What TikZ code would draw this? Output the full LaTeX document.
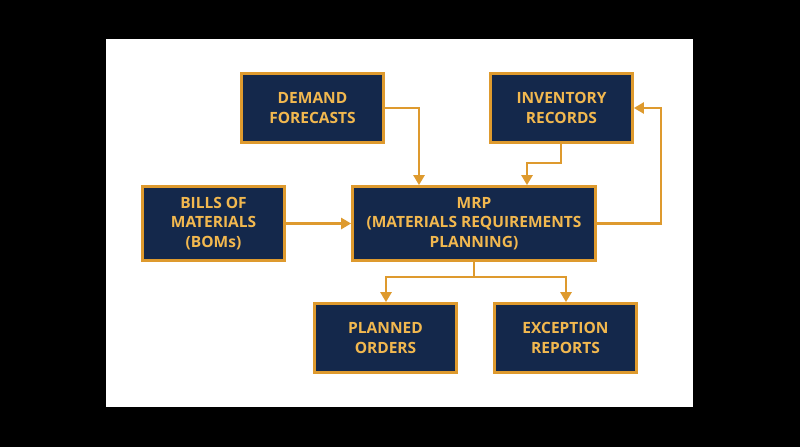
\documentclass[tikz,border=0pt]{standalone}
\usepackage{fontspec}
\setmainfont{Open Sans}
\usetikzlibrary{arrows.meta}
\definecolor{navy}{HTML}{14284B}
\definecolor{gold}{HTML}{DE9A2E}
\definecolor{goldtext}{HTML}{F2B84F}
\tikzset{
  box/.style={draw=gold, fill=navy, line width=2.8pt, text=goldtext, align=center,
    font=\bfseries\fontsize{15.5}{19.5}\selectfont, inner sep=0pt},
  conn/.style={draw=gold, line width=2.8pt, -{Triangle[length=10pt,width=11pt]}},
  plain/.style={draw=gold, line width=2.8pt}
}
\begin{document}
\begin{tikzpicture}[x=1pt,y=-1pt]
\fill[black] (0,0) rectangle (800,447);
\fill[white] (106,39) rectangle (693,407);
\useasboundingbox (0,0) rectangle (800,447);
\node[box, minimum width=142pt, minimum height=69pt] (dem) at (312.5,108) {DEMAND\\FORECASTS};
\node[box, minimum width=142pt, minimum height=69pt] (inv) at (561.5,108) {INVENTORY\\RECORDS};
\node[box, minimum width=142pt, minimum height=74pt] (bom) at (213.5,223.5) {BILLS OF\\MATERIALS\\(BOMs)};
\node[box, minimum width=243pt, minimum height=74pt] (mrp) at (474,223.5) {MRP\\(MATERIALS REQUIREMENTS\\PLANNING)};
\node[box, minimum width=142pt, minimum height=69pt] (po) at (385.5,338) {PLANNED\\ORDERS};
\node[box, minimum width=142pt, minimum height=69pt] (er) at (565.5,338) {EXCEPTION\\REPORTS};
\coordinate (c1) at (419,108);
\coordinate (c2) at (561,163);
\coordinate (c3) at (527,163);
\coordinate (c4) at (661,223.5);
\coordinate (c5) at (661,108);
\coordinate (c6) at (474,277);
\coordinate (c7) at (386,277);
\coordinate (c8) at (566,277);
\draw[conn] (dem.east |- c1) -- (c1) -- (c1 |- mrp.north);
\draw[conn] (inv.south -| c2) -- (c2) -- (c3) -- (c3 |- mrp.north);
\draw[conn] (mrp.east |- c4) -- (c4) -- (c5) -- (inv.east |- c5);
\draw[conn] (bom.east) -- (mrp.west);
\draw[plain] (mrp.south -| c6) -- (c6);
\draw[conn] (c6) -- (c7) -- (c7 |- po.north);
\draw[conn] (c6) -- (c8) -- (c8 |- er.north);
\end{tikzpicture}
\end{document}
